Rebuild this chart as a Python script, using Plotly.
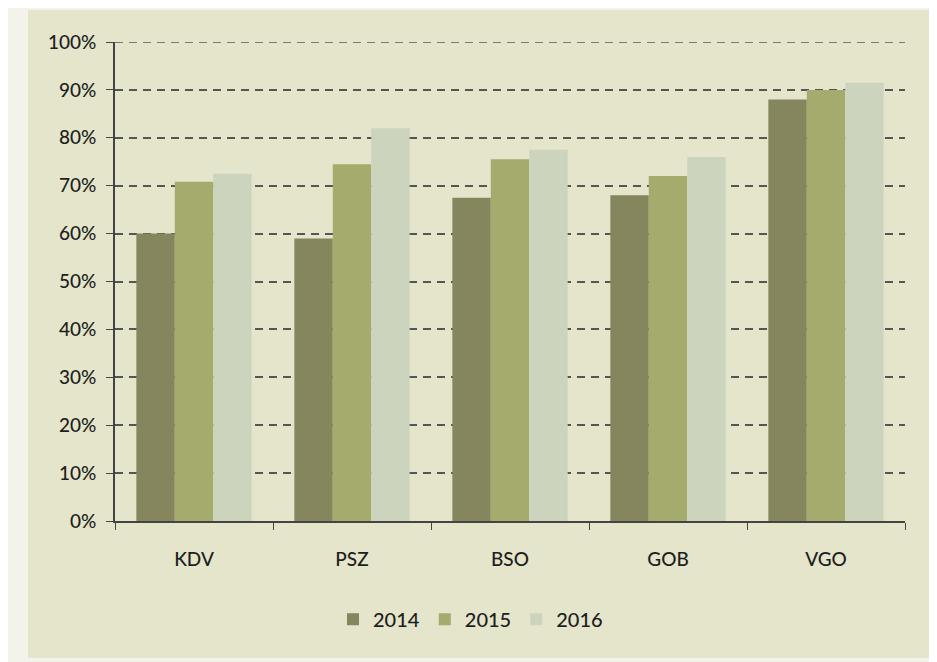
import plotly.graph_objects as go

categories = ["KDV", "PSZ", "BSO", "GOB", "VGO"]
years = ["2014", "2015", "2016"]
values_2014 = [60, 59, 67.5, 68, 88]
values_2015 = [70.8, 74.5, 75.5, 72, 90]
values_2016 = [72.5, 82, 77.5, 76, 91.5]
y_ticks = [0, 10, 20, 30, 40, 50, 60, 70, 80, 90, 100]
y_tick_labels = [f"{v}%" for v in y_ticks]

colors = ["#86865e", "#a4ab6c", "#ccd4bd"]
series = [values_2014, values_2015, values_2016]

fig = go.Figure()
for name, vals, col in zip(years, series, colors):
    fig.add_trace(go.Bar(x=categories, y=vals, name=name, marker_color=col,
                         marker_line_width=0))

W, H = 937, 662
ml, mr, mt, mb = 107, 40, 34, 149
pw, ph = W - ml - mr, H - mt - mb

def px_x(p):
    return (p - ml) / pw

def px_y(p):
    return (H - mb - p) / ph

fig.update_layout(
    width=W, height=H,
    margin=dict(l=ml, r=mr, t=mt, b=mb),
    paper_bgcolor="#f3f3ec",
    plot_bgcolor="#ffffff",
    barmode="group",
    bargap=0.27,
    bargroupgap=0,
    font=dict(family="Lato, Open Sans, sans-serif", size=18, color="#1e1e1e"),
    legend=dict(orientation="h", x=0.45, xanchor="center", y=-0.205, yanchor="middle",
                font=dict(size=20, weight=500), bgcolor="rgba(0,0,0,0)"),
    showlegend=True,
    shapes=[dict(type="rect", xref="paper", yref="paper",
                 x0=px_x(20), x1=px_x(937), y0=px_y(650), y1=px_y(2),
                 fillcolor="#e4e5cb", line_width=0, layer="below"),
            dict(type="line", xref="paper", yref="y", x0=0, x1=1, y0=100, y1=100,
                 line=dict(color="#555555", width=1.5, dash="8px,6px"))],
)
fig.update_yaxes(range=[0, 100], tickvals=y_ticks, ticktext=y_tick_labels,
                 showgrid=True, gridcolor="#555555", griddash="8px,6px", gridwidth=1.5,
                 showline=True, linecolor="#444444", linewidth=1.5,
                 ticks="outside", ticklen=7, tickcolor="#444444",
                 zeroline=False, ticklabelstandoff=6, tickfont=dict(size=19, weight=500))
fig.update_xaxes(showline=True, linecolor="#444444", linewidth=1.5,
                 ticks="outside", tickson="boundaries", ticklen=7, tickcolor="#444444",
                 showgrid=False, ticklabelstandoff=20, tickfont=dict(size=19, weight=500))

fig.write_html("out.html")
